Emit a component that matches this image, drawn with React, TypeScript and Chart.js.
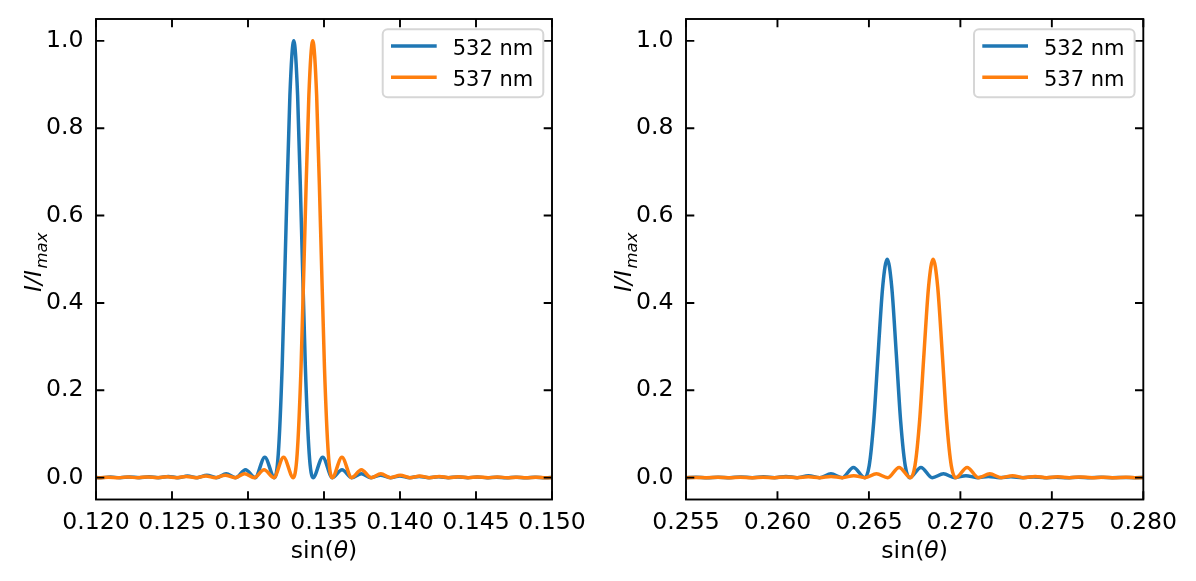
import React, { useEffect, useRef } from "react";
import { Chart, registerables } from "chart.js";

Chart.register(...registerables);

// ---------- data ----------
const SERIES_NAMES = ["532 nm", "537 nm"];
const SERIES_COLORS = ["#1f77b4", "#ff7f0e"];

const Y_TICKS = [0, 0.2, 0.4, 0.6, 0.8, 1.0];
const LEFT_X_TICKS = [0.12, 0.125, 0.13, 0.135, 0.14, 0.145, 0.15];
const RIGHT_X_TICKS = [0.255, 0.26, 0.265, 0.27, 0.275, 0.28];

// first order, 532 nm
const LEFT_532_X = [
  0.119675, 0.12031, 0.120945, 0.12158, 0.122215, 0.12285, 0.123485, 0.12412, 0.124755, 0.12539,
  0.126025, 0.12666, 0.127295, 0.12793, 0.128565, 0.1292, 0.129835, 0.13047, 0.131105, 0.13174,
  0.131994, 0.132248, 0.132502, 0.132756, 0.13301, 0.133264, 0.133518, 0.133772, 0.134026, 0.13428,
  0.134915, 0.13555, 0.136185, 0.13682, 0.137455, 0.13809, 0.138725, 0.13936, 0.139995, 0.14063,
  0.141265, 0.1419, 0.142535, 0.14317, 0.143805, 0.14444, 0.145075, 0.14571, 0.146345, 0.14698,
  0.147615, 0.14825, 0.148885, 0.14952, 0.150155,
];
const LEFT_532_Y = [
  0.0011, 0, 0.0013, 0, 0.0016, 0, 0.002, 0, 0.0027, 0,
  0.0037, 0, 0.0055, 0, 0.009, 0, 0.018, 0, 0.047, 0,
  0.055, 0.255, 0.573, 0.875, 1.0, 0.875, 0.573, 0.255, 0.055, 0,
  0.047, 0, 0.018, 0, 0.009, 0, 0.0055, 0, 0.0037, 0,
  0.0027, 0, 0.002, 0, 0.0016, 0, 0.0013, 0, 0.0011, 0,
  0.0009, 0, 0.0008, 0, 0.0007,
];

// first order, 537 nm
const LEFT_537_X = [
  0.11954, 0.12018, 0.12082, 0.12146, 0.1221, 0.12274, 0.12338, 0.12402, 0.12466, 0.1253,
  0.12594, 0.12658, 0.12722, 0.12786, 0.1285, 0.12914, 0.12978, 0.13042, 0.13106, 0.1317,
  0.13234, 0.13298, 0.133236, 0.133492, 0.133748, 0.134004, 0.13426, 0.134516, 0.134772, 0.135028,
  0.135284, 0.13554, 0.13618, 0.13682, 0.13746, 0.1381, 0.13874, 0.13938, 0.14002, 0.14066,
  0.1413, 0.14194, 0.14258, 0.14322, 0.14386, 0.1445, 0.14514, 0.14578, 0.14642, 0.14706,
  0.1477, 0.14834, 0.14898, 0.14962, 0.15026,
];
const LEFT_537_Y = [
  0.0009, 0, 0.0011, 0, 0.0013, 0, 0.0016, 0, 0.002, 0,
  0.0027, 0, 0.0037, 0, 0.0055, 0, 0.009, 0, 0.018, 0,
  0.047, 0, 0.055, 0.255, 0.573, 0.875, 1.0, 0.875, 0.573, 0.255,
  0.055, 0, 0.047, 0, 0.018, 0, 0.009, 0, 0.0055, 0,
  0.0037, 0, 0.0027, 0, 0.002, 0, 0.0016, 0, 0.0013, 0,
  0.0011, 0, 0.0009, 0, 0.0008,
];

// second order, 532 nm
const RIGHT_532_X = [
  0.254315, 0.25493, 0.255545, 0.25616, 0.256775, 0.25739, 0.258005, 0.25862, 0.259235, 0.25985,
  0.260465, 0.26108, 0.261695, 0.26231, 0.262925, 0.26354, 0.264155, 0.26477, 0.265016, 0.265262,
  0.265508, 0.265754, 0.266, 0.266246, 0.266492, 0.266738, 0.266984, 0.26723, 0.267845, 0.26846,
  0.269075, 0.26969, 0.270305, 0.27092, 0.271535, 0.27215, 0.272765, 0.27338, 0.273995, 0.27461,
  0.275225, 0.27584, 0.276455, 0.27707, 0.277685, 0.2783, 0.278915, 0.27953, 0.280145,
];
const RIGHT_532_Y = [
  0.0007, 0, 0.0008, 0, 0.001, 0, 0.0014, 0, 0.0019, 0,
  0.0028, 0, 0.0045, 0, 0.009, 0, 0.0235, 0, 0.0275, 0.1275,
  0.2865, 0.4375, 0.5, 0.4375, 0.2865, 0.1275, 0.0275, 0, 0.0235, 0,
  0.009, 0, 0.0045, 0, 0.0028, 0, 0.0019, 0, 0.0014, 0,
  0.001, 0, 0.0008, 0, 0.0007, 0, 0.0006, 0, 0.0005,
];

// second order, 537 nm
const RIGHT_537_X = [
  0.25425, 0.25487, 0.25549, 0.25611, 0.25673, 0.25735, 0.25797, 0.25859, 0.25921, 0.25983,
  0.26045, 0.26107, 0.26169, 0.26231, 0.26293, 0.26355, 0.26417, 0.26479, 0.26541, 0.26603,
  0.26665, 0.26727, 0.267518, 0.267766, 0.268014, 0.268262, 0.26851, 0.268758, 0.269006, 0.269254,
  0.269502, 0.26975, 0.27037, 0.27099, 0.27161, 0.27223, 0.27285, 0.27347, 0.27409, 0.27471,
  0.27533, 0.27595, 0.27657, 0.27719, 0.27781, 0.27843, 0.27905, 0.27967, 0.28029,
];
const RIGHT_537_Y = [
  0.0005, 0, 0.0006, 0, 0.0007, 0, 0.0008, 0, 0.001, 0,
  0.0014, 0, 0.0019, 0, 0.0028, 0, 0.0045, 0, 0.009, 0,
  0.0235, 0, 0.0275, 0.1275, 0.2865, 0.4375, 0.5, 0.4375, 0.2865, 0.1275,
  0.0275, 0, 0.0235, 0, 0.009, 0, 0.0045, 0, 0.0028, 0,
  0.0019, 0, 0.0014, 0, 0.001, 0, 0.0008, 0, 0.0007,
];

// ---------- drawing ----------
const FONT = "'DejaVu Sans', 'Liberation Sans', sans-serif";
const TICK_FONT = 23.6;
const LEGEND_FONT = 21;
const CW = 598;
const CH = 581;

type Series = { x: number[]; y: number[] };

function toPoints(s: Series) {
  const n = Math.min(s.x.length, s.y.length);
  const pts: { x: number; y: number }[] = [];
  for (let i = 0; i < n; i++) pts.push({ x: s.x[i], y: s.y[i] });
  return pts;
}

function makeDecor() {
  return {
    id: "decor",
    afterDraw(chart: any) {
      const { ctx, chartArea: a, scales } = chart;
      const xs = scales.x;
      const ys = scales.y;
      ctx.save();

      // inward ticks on all four sides
      ctx.strokeStyle = "#000";
      ctx.lineWidth = 1.9;
      ctx.lineCap = "butt";
      ctx.beginPath();
      const TL = 8.3;
      for (const t of xs.ticks) {
        const px = xs.getPixelForValue(t.value);
        ctx.moveTo(px, a.bottom);
        ctx.lineTo(px, a.bottom - TL);
        ctx.moveTo(px, a.top);
        ctx.lineTo(px, a.top + TL);
      }
      for (const t of ys.ticks) {
        const py = ys.getPixelForValue(t.value);
        ctx.moveTo(a.left, py);
        ctx.lineTo(a.left + TL, py);
        ctx.moveTo(a.right, py);
        ctx.lineTo(a.right - TL, py);
      }
      ctx.stroke();
      ctx.strokeRect(a.left, a.top, a.right - a.left, a.bottom - a.top);

      // legend box (upper right, inside axes)
      const bw = 160.6;
      const bh = 68;
      const bx = a.right - 8.7 - bw;
      const by = a.top + 10.3;
      const r = 5;
      ctx.beginPath();
      ctx.moveTo(bx + r, by);
      ctx.lineTo(bx + bw - r, by);
      ctx.arcTo(bx + bw, by, bx + bw, by + r, r);
      ctx.lineTo(bx + bw, by + bh - r);
      ctx.arcTo(bx + bw, by + bh, bx + bw - r, by + bh, r);
      ctx.lineTo(bx + r, by + bh);
      ctx.arcTo(bx, by + bh, bx, by + bh - r, r);
      ctx.lineTo(bx, by + r);
      ctx.arcTo(bx, by, bx + r, by, r);
      ctx.closePath();
      ctx.fillStyle = "rgba(255,255,255,0.8)";
      ctx.fill();
      ctx.strokeStyle = "#d6d6d6";
      ctx.lineWidth = 2;
      ctx.stroke();

      const rows = [by + 16.7, by + 48];
      ctx.font = `${LEGEND_FONT}px ${FONT}`;
      ctx.textAlign = "left";
      ctx.textBaseline = "alphabetic";
      for (let i = 0; i < SERIES_NAMES.length; i++) {
        ctx.strokeStyle = SERIES_COLORS[i];
        ctx.lineWidth = 3.5;
        ctx.beginPath();
        ctx.moveTo(bx + 8.3, rows[i]);
        ctx.lineTo(bx + 54, rows[i]);
        ctx.stroke();
        ctx.fillStyle = "#000";
        ctx.fillText(SERIES_NAMES[i], bx + 70, rows[i] + 8.8);
      }

      // x label: sin(θ)
      const cx = (a.left + a.right) / 2;
      const reg = `${TICK_FONT}px ${FONT}`;
      const ita = `italic ${TICK_FONT}px ${FONT}`;
      ctx.font = reg;
      const w1 = ctx.measureText("sin(").width;
      const w3 = ctx.measureText(")").width;
      ctx.font = ita;
      const w2 = ctx.measureText("θ").width;
      let sx = cx - (w1 + w2 + w3) / 2;
      const base = 558;
      ctx.fillStyle = "#000";
      ctx.font = reg;
      ctx.fillText("sin(", sx, base);
      sx += w1;
      ctx.font = ita;
      ctx.fillText("θ", sx, base);
      sx += w2;
      ctx.font = reg;
      ctx.fillText(")", sx, base);

      // y label: I/I_max (rotated)
      const subSize = TICK_FONT * 0.7;
      const subFont = `italic ${subSize}px ${FONT}`;
      ctx.font = ita;
      const m1 = ctx.measureText("I/I").width;
      ctx.font = subFont;
      const m2 = ctx.measureText("max").width;
      const cy = (a.top + a.bottom) / 2 + 3;
      ctx.translate(a.left - 55, cy);
      ctx.rotate(-Math.PI / 2);
      const gap = 1.5;
      let tx = -(m1 + gap + m2) / 2;
      ctx.font = ita;
      ctx.fillText("I/I", tx, 0);
      tx += m1 + gap;
      ctx.font = subFont;
      ctx.fillText("max", tx, 5.5);

      ctx.restore();
    },
  };
}

type PanelProps = {
  left: number;
  xMin: number;
  xMax: number;
  xTicks: number[];
  series: Series[];
  areaLeft: number;
  areaRight: number;
};

function zeroPad(s: any) {
  s.paddingTop = 0;
  s.paddingBottom = 0;
  s.paddingLeft = 0;
  s.paddingRight = 0;
}

function Panel({ left, xMin, xMax, xTicks, series, areaLeft, areaRight }: PanelProps) {
  const ref = useRef<HTMLCanvasElement | null>(null);
  useEffect(() => {
    if (!ref.current) return;
    const chart = new Chart(ref.current, {
      type: "line",
      data: {
        datasets: series.map((s, i) => ({
          label: SERIES_NAMES[i],
          data: toPoints(s),
          borderColor: SERIES_COLORS[i],
          backgroundColor: SERIES_COLORS[i],
          borderWidth: 3.5,
          pointRadius: 0,
          fill: false,
          cubicInterpolationMode: "monotone",
          order: series.length - 1 - i,
          clip: 0,
        })),
      } as any,
      options: {
        animation: false,
        responsive: false,
        devicePixelRatio: 1,
        layout: { padding: { left: 0, right: CW - areaRight, top: 19, bottom: 0 } },
        scales: {
          x: {
            type: "linear",
            min: xMin,
            max: xMax,
            afterBuildTicks: (s: any) => {
              s.ticks = xTicks.map((v) => ({ value: v }));
            },
            afterFit: (s: any) => {
              s.height = 81.5;
              zeroPad(s);
            },
            grid: { display: false, drawTicks: false },
            border: { display: false },
            ticks: {
              color: "#000",
              font: { family: FONT, size: TICK_FONT },
              padding: 9,
              maxRotation: 0,
              minRotation: 0,
              autoSkip: false,
              callback: (v: any) => Number(v).toFixed(3),
            },
          },
          y: {
            type: "linear",
            min: -0.05,
            max: 1.05,
            afterBuildTicks: (s: any) => {
              s.ticks = Y_TICKS.map((v) => ({ value: v }));
            },
            afterFit: (s: any) => {
              s.width = areaLeft;
              zeroPad(s);
            },
            grid: { display: false, drawTicks: false },
            border: { display: false },
            ticks: {
              color: "#000",
              font: { family: FONT, size: TICK_FONT },
              padding: 12.5,
              autoSkip: false,
              callback: (v: any) => Number(v).toFixed(1),
            },
          },
        },
        plugins: {
          legend: { display: false },
          tooltip: { enabled: false },
          title: { display: false },
        },
      } as any,
      plugins: [makeDecor()],
    });
    return () => chart.destroy();
  }, []);
  return (
    <canvas
      ref={ref}
      width={CW}
      height={CH}
      style={{ position: "absolute", left, top: 0, width: CW, height: CH }}
    />
  );
}

export default function App() {
  return (
    <div
      style={{
        position: "fixed",
        left: 0,
        top: 0,
        width: 1196,
        height: 581,
        background: "#fff",
        overflow: "hidden",
      }}
    >
      <Panel
        left={0}
        xMin={0.12}
        xMax={0.15}
        xTicks={LEFT_X_TICKS}
        series={[
          { x: LEFT_532_X, y: LEFT_532_Y },
          { x: LEFT_537_X, y: LEFT_537_Y },
        ]}
        areaLeft={96}
        areaRight={552}
      />
      <Panel
        left={598}
        xMin={0.255}
        xMax={0.28}
        xTicks={RIGHT_X_TICKS}
        series={[
          { x: RIGHT_532_X, y: RIGHT_532_Y },
          { x: RIGHT_537_X, y: RIGHT_537_Y },
        ]}
        areaLeft={88}
        areaRight={545.3}
      />
    </div>
  );
}
